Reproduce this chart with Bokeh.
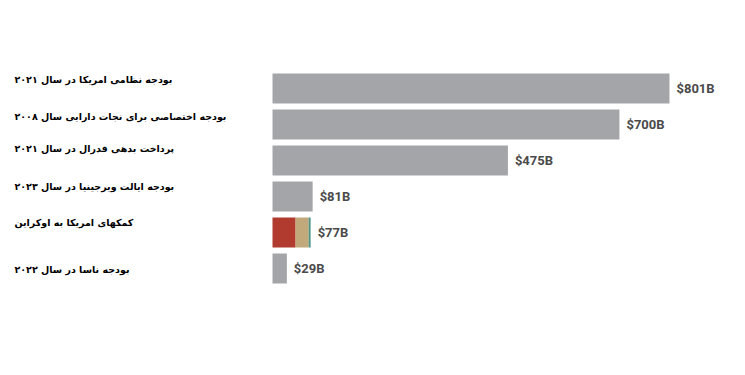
from bokeh.plotting import figure
from bokeh.models import ColumnDataSource, Range1d, FactorRange
from bokeh.core.properties import value
from bokeh.embed import file_html
from bokeh.resources import INLINE

# ---- data ----
categories = [
    "بودجه نظامی امریکا در سال ۲۰۲۱",
    "بودجه اختصاصی برای نجات دارایی سال ۲۰۰۸",
    "پرداخت بدهی فدرال در سال  ۲۰۲۱",
    "بودجه ایالت ویرجینیا در سال ۲۰۲۳",
    "کمکهای امریکا به اوکراین",
    "بودجه ناسا در سال ۲۰۲۲",
]
totals = [801, 700, 475, 81, 77, 29]
value_labels = ["$801B", "$700B", "$475B", "$81B", "$77B", "$29B"]
# Ukraine aid split into three parts
ukraine_parts = [46.6, 26.4, 3.9]
ukraine_colors = ["#b23b2f", "#c1a97c", "#4f9384"]

GRAY = "#a3a5a8"
PX_PER_B = 0.4956
W, H = 729, 359
x0 = -272 / PX_PER_B
x1 = x0 + W / PX_PER_B

p = figure(
    width=W, height=H, output_backend="svg", toolbar_location=None,
    x_range=Range1d(x0, x1),
    y_range=FactorRange(factors=list(reversed(categories)), range_padding=0),
    min_border_left=0, min_border_right=0, min_border_top=70, min_border_bottom=73,
)
p.outline_line_color = None
p.axis.visible = False
p.grid.visible = False
p.background_fill_color = "white"
p.border_fill_color = "white"

ukr = categories[4]
gray_cats = [c for c in categories if c != ukr]
gray_vals = [t for c, t in zip(categories, totals) if c != ukr]
p.hbar(y=gray_cats, left=0, right=gray_vals, height=0.83, fill_color=GRAY, line_color=None)

left = 0
for part, col in zip(ukraine_parts, ukraine_colors):
    p.hbar(y=[ukr], left=left, right=left + part, height=0.83, fill_color=col, line_color=None)
    left += part

src = ColumnDataSource(dict(cat=categories, tot=totals, lab=value_labels))
p.text(x="tot", y="cat", text="lab", source=src, x_offset=7, text_align="left",
       text_baseline="middle", text_font=value("Roboto"), text_font_style="bold",
       text_font_size="13px", text_color="#4a4a4a")

label_offsets = [-9, -8, -12, -10, -10, 1]
lsrc = ColumnDataSource(dict(cat=categories, off=label_offsets))
p.text(x=x0 + 14 / PX_PER_B, y="cat", text="cat", source=lsrc, y_offset="off",
       text_align="left", text_baseline="middle", text_font=value("DejaVu Sans"),
       text_font_style="bold", text_font_size="9.5px", text_color="#000000")

open("out.html", "w").write(file_html(p, INLINE))
